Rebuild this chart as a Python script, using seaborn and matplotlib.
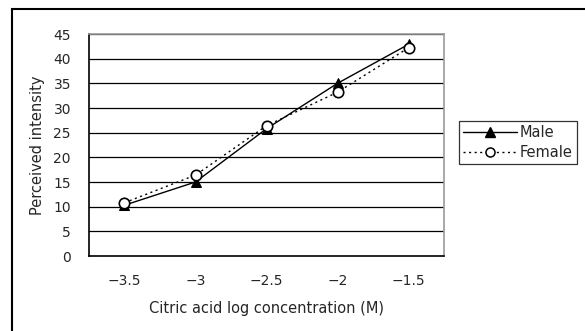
import matplotlib
matplotlib.use("Agg")
import matplotlib.pyplot as plt
from matplotlib.patches import Rectangle
from matplotlib.lines import Line2D
import seaborn as sns
import pandas as pd

# Data
concentrations = ["\u22123.5", "\u22123", "\u22122.5", "\u22122", "\u22121.5"]
male = [10.3, 15.0, 25.8, 35.0, 42.9]
female = [10.8, 16.4, 26.4, 33.2, 42.2]
series = ["Male", "Female"]
y_ticks = [0, 5, 10, 15, 20, 25, 30, 35, 40, 45]

sns.set_theme(style="white")
plt.rcParams["font.family"] = ["DejaVu Sans"]

df = pd.DataFrame({
    "pos": list(range(len(concentrations))) * 2,
    "value": male + female,
    "sex": [series[0]] * len(male) + [series[1]] * len(female),
})

fig = plt.figure(figsize=(5.85, 3.31), dpi=100)
ax = fig.add_axes([89 / 585, 1 - 256 / 331, (444 - 89) / 585, (256 - 34) / 331])

# Horizontal gridlines
for v in y_ticks[1:]:
    ax.axhline(v, color="black", lw=0.9, zorder=0.5)

sns.lineplot(data=df[df.sex == "Male"], x="pos", y="value", ax=ax,
             color="black", lw=1.0, marker="^", markersize=7,
             markerfacecolor="black", markeredgecolor="black", zorder=3,
             legend=False)
sns.lineplot(data=df[df.sex == "Female"], x="pos", y="value", ax=ax,
             color="black", lw=1.0, linestyle=(0, (1.5, 2.5)), marker="o",
             markersize=7.5, markerfacecolor="white", markeredgecolor="black",
             markeredgewidth=1.2, zorder=4, legend=False)

ax.set_xlim(-0.5, len(concentrations) - 0.5)
ax.set_ylim(0, 45)
ax.set_yticks(y_ticks)
ax.set_yticklabels([str(v) for v in y_ticks], fontsize=10)
ax.set_xticks(range(len(concentrations)))
ax.set_xticklabels(concentrations, fontsize=10)
ax.set_xticks([i + 0.5 for i in range(len(concentrations) - 1)], minor=True)
ax.tick_params(axis="x", which="major", length=0, pad=13)
ax.tick_params(axis="x", which="minor", direction="in", length=5, width=0.8, color="black")
ax.tick_params(axis="y", which="major", direction="out", length=2, width=0.8, color="black", pad=11)
ax.set_xlabel("Citric acid log concentration (M)", fontsize=10.5, labelpad=9)
ax.set_ylabel("Perceived intensity", fontsize=10.5, labelpad=6)

for side in ["left", "bottom"]:
    ax.spines[side].set_color("black")
    ax.spines[side].set_linewidth(1.2)
for side in ["top", "right"]:
    ax.spines[side].set_color("#999999")
    ax.spines[side].set_linewidth(1.2)

handles = [
    Line2D([], [], color="black", lw=1.0, marker="^", markersize=7,
           markerfacecolor="black"),
    Line2D([], [], color="black", lw=1.0, linestyle=(0, (1.5, 2.5)), marker="o",
           markersize=6.5, markerfacecolor="white", markeredgewidth=1.1),
]
leg = fig.legend(handles, series, loc="upper left",
                 bbox_to_anchor=(459 / 585, 1 - 121 / 331), fontsize=10.5,
                 frameon=True, fancybox=False, handlelength=3.7,
                 handletextpad=0.15, borderpad=0.3, labelspacing=0.3,
                 borderaxespad=0)
leg.get_frame().set_edgecolor("black")
leg.get_frame().set_linewidth(0.9)

# Outer chart border
fig.patches.append(Rectangle((12 / 585, -0.1), 1.2, 1.1 - 9 / 331,
                             transform=fig.transFigure, fill=False,
                             edgecolor="black", lw=1.5, clip_on=False))

fig.savefig("out.png", dpi=100)
